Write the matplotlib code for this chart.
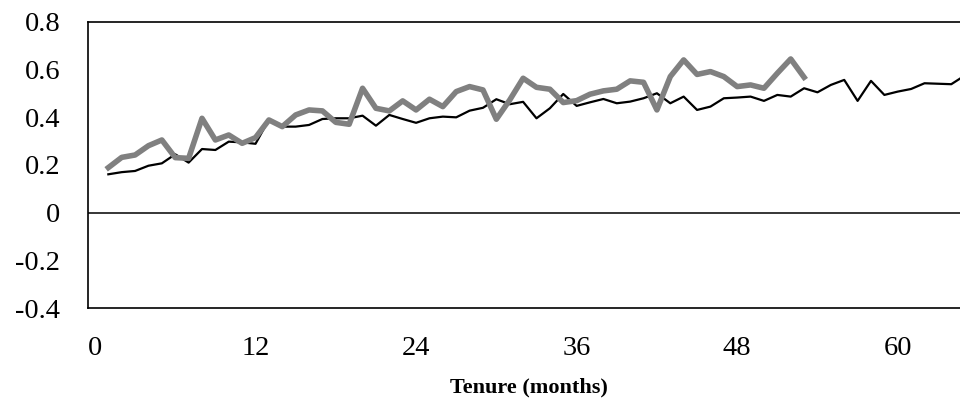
import matplotlib
matplotlib.use("Agg")
import matplotlib.pyplot as plt

plt.rcParams['font.family'] = ['Liberation Serif', 'DejaVu Serif']

# tenure in months and the two series
months_black = list(range(1, 66))
black = [0.161, 0.170, 0.175, 0.197, 0.207, 0.245, 0.210, 0.267, 0.263, 0.298,
         0.295, 0.289, 0.390, 0.361, 0.361, 0.368, 0.393, 0.396, 0.396, 0.407,
         0.365, 0.410, 0.393, 0.377, 0.396, 0.403, 0.400, 0.428, 0.440, 0.476,
         0.455, 0.465, 0.396, 0.438, 0.498, 0.448, 0.463, 0.477, 0.459, 0.466,
         0.480, 0.501, 0.459, 0.487, 0.431, 0.445, 0.480, 0.483, 0.487, 0.469,
         0.494, 0.487, 0.522, 0.505, 0.536, 0.557, 0.469, 0.553, 0.494, 0.508,
         0.519, 0.543, 0.541, 0.539, 0.575]

months_grey = list(range(1, 54))
grey = [0.189, 0.232, 0.242, 0.281, 0.305, 0.231, 0.228, 0.396, 0.305, 0.326,
        0.291, 0.315, 0.389, 0.361, 0.410, 0.431, 0.427, 0.379, 0.371, 0.522,
        0.438, 0.427, 0.469, 0.431, 0.476, 0.445, 0.508, 0.529, 0.515, 0.392,
        0.473, 0.564, 0.526, 0.518, 0.462, 0.470, 0.497, 0.511, 0.518, 0.553,
        0.547, 0.431, 0.571, 0.641, 0.580, 0.592, 0.571, 0.529, 0.536, 0.522,
        0.585, 0.645, 0.568]

xticks = [0, 12, 24, 36, 48, 60]
yticks = [-0.4, -0.2, 0, 0.2, 0.4, 0.6, 0.8]
ytick_labels = ['-0.4', '-0.2', '0', '0.2', '0.4', '0.6', '0.8']

fig = plt.figure(figsize=(9.6, 4.07), dpi=100)
# axes run a little past the right edge, the original is cut there
ax = fig.add_axes([88 / 960, 99 / 407, 882 / 960, 286 / 407])

ax.plot(months_black, black, color='black', lw=1.6, zorder=3)
ax.plot(months_grey, grey, color='#808080', lw=4.0, zorder=4)
ax.axhline(0, color='black', lw=1.1, zorder=2)

ax.set_xlim(-0.52, 65.4)
ax.set_ylim(-0.4, 0.8)
ax.set_xticks(xticks)
ax.set_yticks(yticks)
ax.set_yticklabels(ytick_labels)
ax.tick_params(axis='both', length=0, labelsize=20.5)
ax.tick_params(axis='x', pad=20)
ax.tick_params(axis='y', pad=20)

for side in ['left', 'top', 'bottom', 'right']:
    ax.spines[side].set_linewidth(1.2)
    ax.spines[side].set_color('black')

ax.set_xlabel('Tenure (months)', fontsize=16, fontweight='bold', labelpad=12)

fig.savefig('out.png', dpi=100)
